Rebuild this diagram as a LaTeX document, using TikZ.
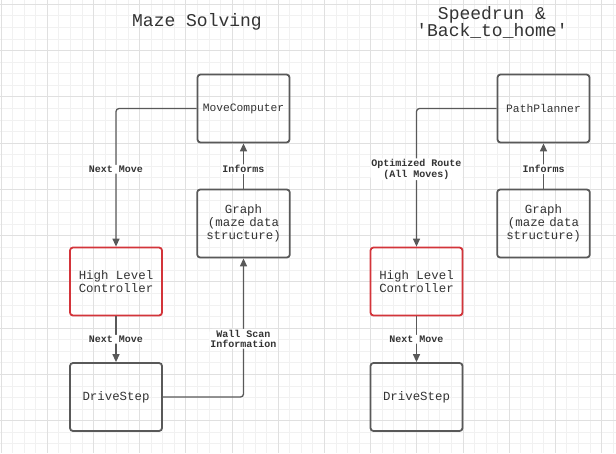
\documentclass[tikz,border=0pt]{standalone}
\usepackage{fontspec}
\setmainfont{Liberation Mono}[Ligatures=TeXOff]
\usetikzlibrary{arrows.meta}
\definecolor{edge}{HTML}{595959}
\definecolor{ink}{HTML}{333333}
\definecolor{hlred}{HTML}{D3343A}
\begin{document}
\begin{tikzpicture}[x=1pt,y=-1pt,
	box/.style={draw=edge,line width=1.8pt,rounded corners=3pt,text=ink,minimum width=92pt,minimum height=68pt,align=center,font=\fontsize{12.4}{13}\selectfont},
	hl/.style={box,draw=hlred},
	arr/.style={draw=edge,line width=1.3pt,rounded corners=3pt,-{Triangle[length=8pt,width=7pt]}},
	lbl/.style={fill=white,inner sep=1pt,text=ink,align=center,font=\fontsize{10}{10.4}\selectfont\bfseries},
	ttl/.style={text=ink,align=center,font=\fontsize{18}{17}\selectfont}]
	\useasboundingbox (0,0) rectangle (616,453);
	% grid
	\foreach \i in {0,...,53} \draw[gray!11,line width=0.8pt] (1.1+11.545*\i,0) -- (1.1+11.545*\i,453);
	\foreach \j in {0,...,38} \draw[gray!11,line width=0.8pt] (0,4.2+11.57*\j) -- (616,4.2+11.57*\j);
	\foreach \i in {0,...,13} \draw[gray!24,line width=0.8pt] (1.1+46.18*\i,0) -- (1.1+46.18*\i,453);
	\foreach \j in {0,...,9} \draw[gray!24,line width=0.8pt] (0,4.2+46.28*\j) -- (616,4.2+46.28*\j);
	% maze solving
	\node[ttl] (mazettl) at (197,22) {Maze Solving};
	\node[box,font=\fontsize{11.3}{12}\selectfont] (movecomp) at (243.5,108.5) {MoveComputer};
	\node[box,text width=86pt] (graphl) at (243.5,223.5) {Graph\\(maze data\\structure)};
	\node[hl] (hlcl) at (116,281.5) {High Level\\Controller};
	\node[box] (drivel) at (116,397) {DriveStep};
	\draw[arr] (movecomp.west) -| node[lbl,pos=0.72] (nextl) {Next Move} (hlcl.north);
	\draw[arr] (graphl.north) -- node[lbl,pos=0.43] (infl) {Informs} (movecomp.south);
	\draw[arr] (hlcl.south) -- node[lbl] (nextl2) {Next Move} (drivel.north);
	\draw[arr] (drivel.east) -| node[lbl,pos=0.71] (wall) {Wall Scan\\Information} (graphl.south);
	% speedrun
	\node[ttl] (speedttl) at (492,22) {Speedrun \&\\'Back\_to\_home'};
	\node[box,font=\fontsize{11.3}{12}\selectfont] (planner) at (543.5,108.5) {PathPlanner};
	\node[box,text width=86pt] (graphr) at (543.5,223.5) {Graph\\(maze data\\structure)};
	\node[hl] (hlcr) at (416.5,281.5) {High Level\\Controller};
	\node[box] (driver) at (416.5,397) {DriveStep};
	\draw[arr] (planner.west) -| node[lbl,pos=0.72] (route) {Optimized Route\\(All Moves)} (hlcr.north);
	\draw[arr] (graphr.north) -- node[lbl,pos=0.43] (infr) {Informs} (planner.south);
	\draw[arr] (hlcr.south) -- node[lbl] (nextr) {Next Move} (driver.north);
\end{tikzpicture}
\end{document}
